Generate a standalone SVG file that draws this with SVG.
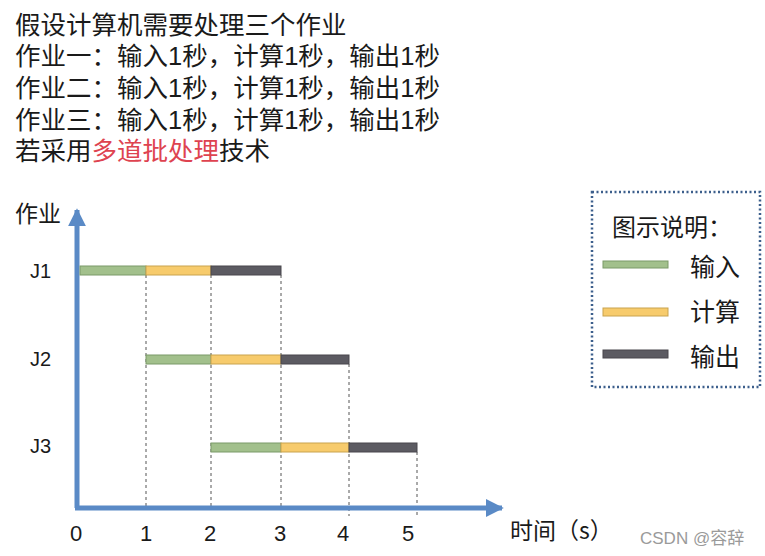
<svg xmlns="http://www.w3.org/2000/svg" width="765" height="556" viewBox="0 0 765 556">
<style>
.t{font-family:"Noto Sans CJK SC","Liberation Sans",sans-serif;fill:#1a1a1a}
.h{font-family:"Liberation Sans","Noto Sans CJK SC",sans-serif;font-size:25.5px;fill:#1a1a1a}
.red{fill:#de4350}
.lab{font-family:"Liberation Sans","Noto Sans CJK SC",sans-serif;font-size:20px;fill:#1a1a1a}
.num{font-family:"Liberation Sans","Noto Sans CJK SC",sans-serif;font-size:22px;fill:#1a1a1a}
.in{fill:#a2c08c;stroke:#7b9a68;stroke-width:1}
.cp{fill:#f7cb6c;stroke:#c9a34e;stroke-width:1}
.out{fill:#5c5b62;stroke:#48474d;stroke-width:1}
.axis{stroke:#5a8ac6;stroke-width:5;fill:none}
.guide{stroke:#555;stroke-width:1;stroke-dasharray:3 3;fill:none}
</style>
<defs>
<marker id="ah" viewBox="0 0 10 10" refX="9" refY="5" markerWidth="3.6" markerHeight="3.6" orient="auto" markerUnits="strokeWidth">
<path d="M0,0 L10,5 L0,10 z" fill="#5a8ac6"/>
</marker>
</defs>
<rect width="765" height="556" fill="#ffffff"/>
<g id="header">
<text class="h" x="15" y="34">假设计算机需要处理三个作业</text>
<text class="h" x="15" y="65">作业一：输入1秒，计算1秒，输出1秒</text>
<text class="h" x="15" y="97">作业二：输入1秒，计算1秒，输出1秒</text>
<text class="h" x="15" y="129">作业三：输入1秒，计算1秒，输出1秒</text>
<text class="h" x="15" y="160">若采用<tspan class="red">多道批处理</tspan>技术</text>
</g>
<g id="connectors">
<line class="guide" x1="146" y1="275" x2="146" y2="509"/>
<line class="guide" x1="211" y1="275" x2="211" y2="509"/>
<line class="guide" x1="281" y1="275" x2="281" y2="509"/>
<line class="guide" x1="349" y1="364" x2="349" y2="516"/>
<line class="guide" x1="417" y1="452" x2="417" y2="516"/>
<path class="axis" d="M77,508 L77,210" marker-end="url(#ah)"/>
<path class="axis" d="M75,508 L502,508" marker-end="url(#ah)"/>
</g>
<g id="axis-labels">
<text class="t" x="15" y="222" font-size="23">作业</text>
<text class="num" x="70" y="541">0</text>
<text class="num" x="140" y="541">1</text>
<text class="num" x="204" y="541">2</text>
<text class="num" x="274" y="541">3</text>
<text class="num" x="337" y="541">4</text>
<text class="num" x="402" y="541">5</text>
<text class="t" x="510" y="539" font-size="23">时间（s）</text>
</g>
<g id="J1">
<text class="lab" x="30" y="278">J1</text>
<rect class="in" x="80" y="266" width="66" height="9"/>
<rect class="cp" x="146" y="266" width="65" height="9"/>
<rect class="out" x="211" y="266" width="70" height="9"/>
</g>
<g id="J2">
<text class="lab" x="30" y="366">J2</text>
<rect class="in" x="146" y="355" width="65" height="9"/>
<rect class="cp" x="211" y="355" width="70" height="9"/>
<rect class="out" x="281" y="355" width="68" height="9"/>
</g>
<g id="J3">
<text class="lab" x="30" y="453">J3</text>
<rect class="in" x="211" y="443" width="70" height="9"/>
<rect class="cp" x="281" y="443" width="68" height="9"/>
<rect class="out" x="349" y="443" width="68" height="9"/>
</g>
<g id="legend">
<rect x="592" y="192" width="168" height="195" fill="none" stroke="#3c5f8c" stroke-width="2.5" stroke-dasharray="2 2.5"/>
<text class="t" x="612" y="236" font-size="24">图示说明：</text>
<rect class="in" x="603" y="261" width="65" height="7"/>
<text class="t" x="690" y="276" font-size="25">输入</text>
<rect class="cp" x="603" y="308" width="65" height="8"/>
<text class="t" x="690" y="321" font-size="25">计算</text>
<rect class="out" x="603" y="350" width="65" height="8"/>
<text class="t" x="690" y="366" font-size="25">输出</text>
</g>
<g id="watermark">
<text x="640" y="544" font-family="Liberation Sans,Noto Sans CJK SC,sans-serif" font-size="17" fill="#9a9a9a">CSDN @容辞</text>
</g>
</svg>
